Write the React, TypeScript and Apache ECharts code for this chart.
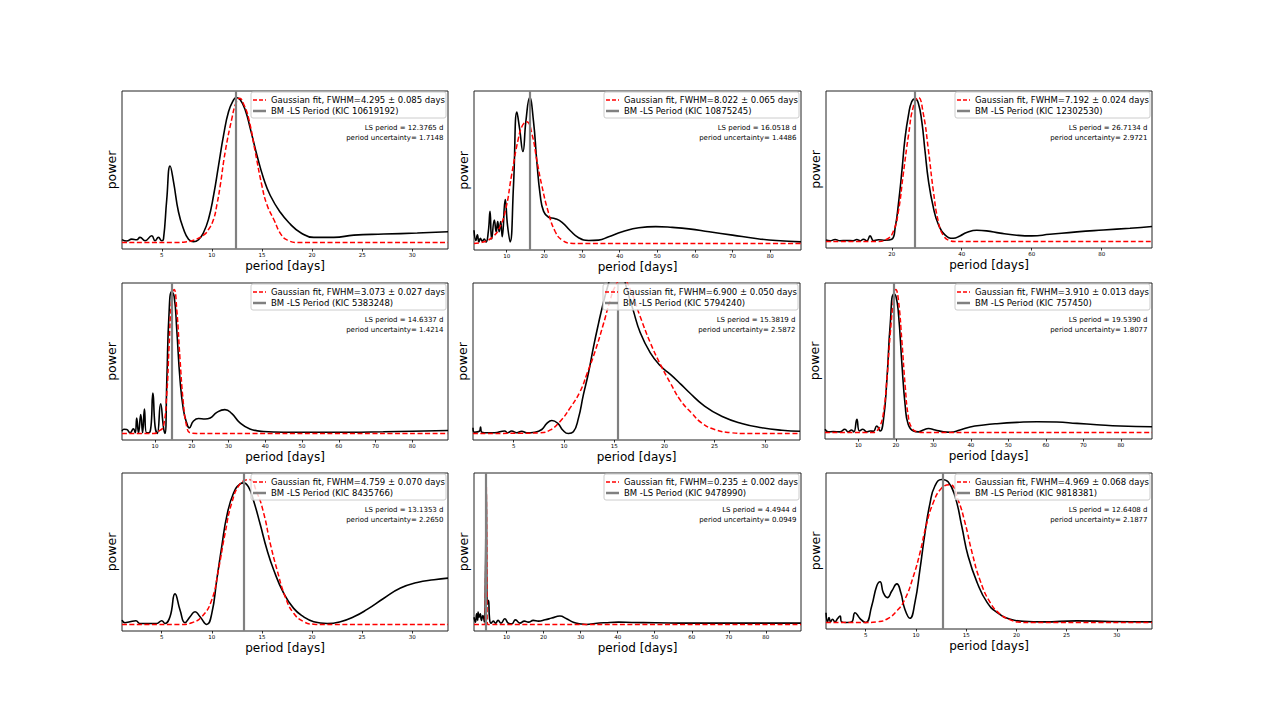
import React, { useEffect, useRef } from "react";
import * as echarts from "echarts";

// ---------- data (period [days], normalised power) ----------
const p1Black = [[1.03,0.02],[1.5,0.01],[2.0,0.023],[2.5,0.019],[2.83,0.035],[3.33,0.012],[4.0,0.046],[4.33,0.012],[4.67,0.035],[5.0,0.012],[5.17,0.023],[5.5,0.3],[5.83,0.528],[6.17,0.42],[6.67,0.21],[7.17,0.093],[7.67,0.023],[8.17,0.005],[8.67,0.019],[9.17,0.069],[9.67,0.162],[10.17,0.324],[10.67,0.532],[11.17,0.741],[11.67,0.903],[12.17,0.984],[12.43,1.0],[12.83,0.984],[13.33,0.914],[13.83,0.787],[14.5,0.602],[15.17,0.44],[15.83,0.324],[16.83,0.208],[17.83,0.127],[18.83,0.069],[20.17,0.035],[22.17,0.035],[24.17,0.051],[27.17,0.058],[30.5,0.065],[33.57,0.074]];
const p1Red = [[1.03,0],[6.5,0],[7.5,0.005],[8.17,0.015],[9.17,0.05],[9.67,0.09],[10.17,0.16],[10.5,0.26],[10.83,0.39],[11.33,0.625],[12.0,0.856],[12.4,0.96],[12.77,0.995],[13.2,0.95],[13.67,0.856],[14.33,0.625],[15.0,0.39],[15.5,0.26],[16.17,0.16],[17.0,0.046],[17.67,0.012],[18.5,0],[33.57,0]];

const p2Black = [[1.3,0.09],[1.8,0.02],[2.2,0.06],[2.6,0.01],[3.0,0.035],[3.5,0.015],[4.0,0.03],[4.5,0.01],[5.1,0.08],[5.56,0.22],[6.0,0.03],[6.7,0.16],[7.2,0.08],[7.6,0.15],[8.0,0.08],[8.4,0.15],[8.8,0.046],[9.6,0.30],[10.2,0.126],[10.9,0.011],[11.8,0.40],[12.7,0.90],[13.4,0.79],[14.3,0.63],[15.1,0.84],[16.1,1.0],[17.1,0.84],[18.0,0.56],[18.9,0.33],[19.8,0.22],[21.1,0.18],[22.9,0.17],[24.7,0.145],[26.9,0.087],[29.1,0.039],[31.8,0.02],[34.4,0.023],[37.1,0.046],[40.7,0.08],[45.1,0.108],[49.6,0.115],[54.0,0.11],[58.4,0.1],[63.8,0.08],[70.0,0.057],[76.2,0.034],[81.6,0.02],[88.2,0.011]];
const p2Red = [[1.3,0],[3,0.005],[5.1,0.023],[6.5,0.05],[7.8,0.092],[9.6,0.22],[11.3,0.47],[13.1,0.72],[14.2,0.81],[15.3,0.834],[16.7,0.75],[18.0,0.57],[19.3,0.4],[21.1,0.21],[22.9,0.08],[24.7,0.023],[26.9,0.002],[29,0],[88.2,0]];

const p3Black = [[1.2,0.01],[2.4,0.005],[3.8,0.014],[5.2,0.005],[7,0.007],[9,0.005],[10,0.014],[11,0.005],[11.9,0.016],[12.9,0.005],[13.8,0.039],[14.8,0.005],[16.2,0.012],[18.1,0.009],[20.0,0.016],[21.0,0.1],[21.9,0.26],[22.9,0.49],[23.8,0.72],[24.8,0.88],[25.7,0.97],[26.7,0.99],[27.6,0.96],[28.6,0.83],[29.5,0.63],[30.5,0.42],[31.9,0.235],[33.3,0.12],[35.2,0.046],[37.6,0.023],[39.5,0.039],[41.4,0.062],[44.3,0.078],[47.1,0.074],[51,0.058],[55.7,0.044],[60,0.039],[65.2,0.05],[72.9,0.067],[80.5,0.08],[88.1,0.092],[94.4,0.104]];
const p3Red = [[1.2,0],[15.7,0],[18.6,0.016],[20.5,0.074],[21.9,0.21],[23.3,0.47],[24.8,0.74],[26.2,0.94],[27.6,1.0],[29.0,0.89],[30.5,0.63],[31.9,0.35],[33.3,0.14],[34.8,0.04],[36.7,0.005],[38,0],[94.4,0]];

const p4Black = [[1.0,0.016],[1.5,0.03],[2.3,0.028],[3.2,0.005],[4.1,0.032],[4.6,0.005],[5.0,0.108],[5.5,0.005],[6.1,0.131],[6.6,0.005],[7.1,0.17],[7.7,0.005],[8.6,0.01],[9.4,0.281],[10.0,0.05],[10.6,0.0],[11.5,0.207],[12.3,0.04],[12.7,0.0],[13.2,0.373],[13.8,0.834],[14.5,0.984],[15.2,0.95],[15.9,0.72],[16.8,0.37],[17.7,0.166],[18.6,0.074],[19.3,0.039],[20.4,0.085],[21.8,0.104],[23.6,0.101],[25.0,0.108],[26.8,0.147],[29.0,0.166],[30.9,0.138],[33.1,0.074],[35.8,0.032],[39.5,0.014],[44.9,0.009],[54,0.009],[63,0.009],[72.1,0.012],[80,0.016],[89.7,0.021]];
const p4Red = [[1.0,0],[9.5,0],[11.4,0.023],[12.3,0.05],[13.2,0.28],[13.8,0.6],[14.5,0.93],[15.2,1.0],[15.9,0.86],[16.8,0.51],[17.7,0.21],[18.6,0.05],[19.5,0.005],[21.3,0],[89.7,0]];

const p5Black = [[0.95,0.04],[1.1,0.009],[1.6,0.016],[1.7,0.045],[1.8,0.01],[2.1,0.005],[3.1,0.005],[4.1,0.018],[4.4,0.005],[4.8,0.018],[5.3,0.005],[5.8,0.016],[6.3,0.005],[7.1,0.009],[7.8,0.028],[8.3,0.07],[8.8,0.09],[9.4,0.07],[9.9,0.023],[10.44,0.0],[10.94,0.012],[11.44,0.105],[11.94,0.27],[12.44,0.42],[12.94,0.6],[13.43,0.76],[13.93,0.91],[14.43,1.04],[14.9,1.15],[15.38,1.19],[15.8,1.14],[16.2,1.02],[16.9,0.855],[17.6,0.7],[18.6,0.56],[19.6,0.47],[20.6,0.41],[21.6,0.345],[22.4,0.29],[24.0,0.19],[25.7,0.12],[27.7,0.07],[29.7,0.04],[31.7,0.023],[33.5,0.016]];
const p5Red = [[0.95,0],[5.8,0.002],[7.6,0.005],[8.6,0.023],[9.6,0.082],[10.6,0.176],[11.6,0.29],[12.27,0.41],[13.1,0.57],[13.93,0.76],[14.6,0.925],[15.1,1.02],[15.8,1.08],[16.6,1.0],[17.6,0.81],[18.6,0.63],[19.6,0.48],[20.6,0.35],[21.6,0.23],[22.7,0.143],[23.7,0.074],[25.0,0.028],[26.7,0.005],[28,0],[33.5,0]];

const p6Black = [[1.1,0.023],[2.0,0.005],[3.3,0.007],[5.1,0.005],[6.4,0.023],[7.3,0.005],[8.2,0.018],[8.8,0.005],[9.6,0.092],[10.3,0.011],[11.2,0.023],[12.2,0.005],[13.1,0.011],[14.0,0.009],[14.9,0.046],[15.8,0.011],[16.7,0.092],[17.6,0.368],[18.5,0.759],[19.4,0.966],[20.0,0.954],[20.7,0.828],[21.6,0.483],[22.5,0.184],[23.3,0.057],[24.7,0.011],[26.0,0.005],[27.3,0.018],[28.7,0.028],[30.5,0.018],[32.7,0.005],[34.5,0.002],[37.1,0.018],[39.8,0.039],[43.4,0.053],[46.9,0.062],[52.3,0.071],[57.6,0.076],[62.9,0.074],[68.3,0.064],[73.6,0.055],[79.8,0.046],[88.3,0.041]];
const p6Red = [[1.1,0],[14.0,0],[14.9,0.011],[15.8,0.046],[16.7,0.14],[17.6,0.37],[18.5,0.69],[19.4,0.93],[20.0,1.0],[20.7,0.92],[21.6,0.64],[22.5,0.32],[23.3,0.115],[24.2,0.035],[25.6,0.005],[27.3,0],[88.3,0]];

const p7Black = [[1.04,0.03],[1.33,0.012],[1.83,0.019],[2.43,0.026],[2.83,0.007],[3.83,0.007],[4.5,0.007],[5.0,0.026],[5.33,0.007],[5.83,0.053],[6.33,0.211],[6.83,0.1],[7.33,0.012],[7.83,0.053],[8.33,0.088],[8.83,0.053],[9.5,0.0],[10.0,0.077],[10.5,0.309],[11.0,0.541],[11.5,0.749],[12.17,0.907],[12.83,0.97],[13.17,0.977],[13.67,0.947],[14.17,0.854],[14.83,0.691],[15.5,0.517],[16.17,0.378],[17.17,0.216],[18.17,0.111],[19.17,0.053],[20.17,0.019],[21.5,0.007],[22.83,0.019],[24.17,0.053],[25.5,0.104],[27.17,0.181],[28.83,0.251],[30.5,0.29],[32.17,0.309],[33.57,0.32]];
const p7Red = [[1.04,0],[7.0,0],[8.0,0.012],[9.0,0.053],[10.0,0.17],[10.67,0.38],[11.33,0.63],[12.0,0.84],[12.83,0.97],[13.73,1.0],[14.5,0.91],[15.17,0.77],[15.83,0.56],[16.5,0.38],[17.33,0.19],[18.17,0.077],[19.17,0.019],[20.17,0.002],[21,0],[33.57,0]];

const p8Black = [[1.2,0.05],[1.6,0.016],[1.9,0.074],[2.2,0.028],[2.3,0.085],[2.6,0.05],[2.9,0.074],[3.2,0.028],[3.6,0.062],[4.0,0.016],[4.3,0.37],[4.5,1.0],[4.8,0.14],[5.1,0.166],[5.4,0.039],[5.8,0.009],[6.4,0.023],[7.0,0.009],[7.7,0.028],[8.5,0.009],[9.5,0.039],[10.5,0.009],[11.4,0.005],[12.4,0.032],[13.6,0.009],[14.8,0.023],[15.9,0.016],[17.2,0.028],[18.6,0.023],[20.4,0.032],[22.2,0.044],[24.4,0.058],[26.2,0.039],[28.0,0.016],[29.8,0.005],[31.6,0.0],[33.9,0.007],[36.6,0.012],[40.2,0.016],[43.8,0.014],[50.1,0.012],[59.1,0.009],[68.1,0.009],[77.1,0.009],[89.5,0.009]];
const p8Red = [[1.2,0],[4.15,0],[4.3,0.2],[4.4,0.6],[4.5,0.98],[4.6,0.6],[4.7,0.2],[4.85,0],[89.5,0]];

const p9Black = [[1.05,0.069],[1.2,0.005],[1.35,0.035],[1.5,0.005],[1.7,0.023],[1.95,0.005],[2.2,0.028],[2.45,0.046],[2.6,0.005],[3.1,0.0],[3.6,0.005],[3.94,0.069],[4.44,0.028],[5.0,0.0],[5.6,0.116],[6.1,0.255],[6.43,0.285],[6.76,0.208],[7.16,0.174],[7.6,0.22],[8.1,0.27],[8.5,0.208],[8.9,0.093],[9.4,0.03],[9.9,0.139],[10.4,0.37],[10.9,0.625],[11.4,0.833],[11.9,0.956],[12.57,1.0],[13.2,0.984],[13.9,0.88],[14.57,0.671],[15.2,0.463],[16.1,0.278],[17.1,0.139],[18.1,0.069],[19.4,0.023],[20.7,0.009],[22.7,0.005],[26.0,0.012],[29.4,0.007],[33.5,0.005]];
const p9Red = [[1.05,0],[5.0,0],[6.1,0.005],[7.1,0.023],[8.1,0.081],[8.9,0.162],[9.75,0.324],[10.4,0.486],[11.0,0.671],[11.7,0.833],[12.57,0.94],[13.4,0.963],[14.2,0.856],[14.9,0.694],[15.6,0.486],[16.4,0.292],[17.4,0.139],[18.4,0.058],[19.4,0.019],[20.4,0.002],[21.5,0],[33.5,0]];

const lsPeriods = [12.3765, 16.0518, 26.7134, 14.6337, 15.3819, 19.539, 13.1353, 4.4944, 12.6408];
const fwhmLabels = [
  "Gaussian fit, FWHM=4.295 ± 0.085 days",
  "Gaussian fit, FWHM=8.022 ± 0.065 days",
  "Gaussian fit, FWHM=7.192 ± 0.024 days",
  "Gaussian fit, FWHM=3.073 ± 0.027 days",
  "Gaussian fit, FWHM=6.900 ± 0.050 days",
  "Gaussian fit, FWHM=3.910 ± 0.013 days",
  "Gaussian fit, FWHM=4.759 ± 0.070 days",
  "Gaussian fit, FWHM=0.235 ± 0.002 days",
  "Gaussian fit, FWHM=4.969 ± 0.068 days",
];
const kicLabels = [
  "BM -LS Period (KIC 10619192)",
  "BM -LS Period (KIC 10875245)",
  "BM -LS Period (KIC 12302530)",
  "BM -LS Period (KIC 5383248)",
  "BM -LS Period (KIC 5794240)",
  "BM -LS Period (KIC 757450)",
  "BM -LS Period (KIC 8435766)",
  "BM -LS Period (KIC 9478990)",
  "BM -LS Period (KIC 9818381)",
];
const lsLabels = [
  "LS period = 12.3765 d", "LS period = 16.0518 d", "LS period = 26.7134 d",
  "LS period = 14.6337 d", "LS period = 15.3819 d", "LS period = 19.5390 d",
  "LS period = 13.1353 d", "LS period = 4.4944 d", "LS period = 12.6408 d",
];
const uncLabels = [
  "period uncertainty= 1.7148", "period uncertainty= 1.4486", "period uncertainty= 2.9721",
  "period uncertainty= 1.4214", "period uncertainty= 2.5872", "period uncertainty= 1.8077",
  "period uncertainty= 2.2650", "period uncertainty= 0.0949", "period uncertainty= 2.1877",
];
const xRanges = [[1.03, 33.57], [1.3, 88.2], [1.2, 94.4], [1.0, 89.7], [0.95, 33.5], [1.1, 88.3], [1.04, 33.57], [1.2, 89.5], [1.05, 33.5]];
const t5 = [5, 10, 15, 20, 25, 30];
const t10 = [10, 20, 30, 40, 50, 60, 70, 80];
const t20 = [20, 40, 60, 80];
const xTicks = [t5, t10, t20, t10, t5, t10, t5, t10, t5];

const blacks = [p1Black, p2Black, p3Black, p4Black, p5Black, p6Black, p7Black, p8Black, p9Black];
const reds = [p1Red, p2Red, p3Red, p4Red, p5Red, p6Red, p7Red, p8Red, p9Red];

// ---------- layout ----------
const grids = [
  { left: 122, top: 91, width: 326, height: 158 },
  { left: 474, top: 91, width: 327, height: 159 },
  { left: 826, top: 91, width: 326, height: 157 },
  { left: 122, top: 283, width: 326, height: 157 },
  { left: 473, top: 283, width: 327, height: 157 },
  { left: 825, top: 283, width: 327, height: 156 },
  { left: 122, top: 473, width: 326, height: 158 },
  { left: 474, top: 473, width: 327, height: 158 },
  { left: 826, top: 473, width: 326, height: 156 },
];

const FONT = "DejaVu Sans";

export default function App() {
  const ref = useRef<HTMLDivElement>(null);
  useEffect(() => {
    if (!ref.current) return;
    const chart = echarts.init(ref.current, undefined, { renderer: "svg" });
    const graphic: any[] = [];
    grids.forEach((g, i) => {
      const right = g.left + g.width;
      const bw = 195, bh = 26;
      const bx = right - 2 - bw;
      const by = g.top + 1;
      graphic.push({ type: "rect", z: 100, shape: { x: bx, y: by, width: bw, height: bh, r: 2 }, style: { fill: "rgba(255,255,255,0.8)", stroke: "#cccccc", lineWidth: 1 } });
      graphic.push({ type: "line", z: 101, shape: { x1: bx + 2, y1: by + 8, x2: bx + 15, y2: by + 8 }, style: { stroke: "#ff0000", lineWidth: 1.6, lineDash: [4, 2] } });
      graphic.push({ type: "line", z: 101, shape: { x1: bx + 2, y1: by + 19, x2: bx + 15, y2: by + 19 }, style: { stroke: "#808080", lineWidth: 2.5 } });
      graphic.push({ type: "text", z: 101, x: bx + 20, y: by + 8, style: { text: fwhmLabels[i], fontSize: 8.5, fontFamily: FONT, fill: "#000", textAlign: "left", textVerticalAlign: "middle", align: "left", verticalAlign: "middle" } });
      graphic.push({ type: "text", z: 101, x: bx + 20, y: by + 19, style: { text: kicLabels[i], fontSize: 8.5, fontFamily: FONT, fill: "#000", textAlign: "left", textVerticalAlign: "middle", align: "left", verticalAlign: "middle" } });
      graphic.push({ type: "text", z: 101, x: right - 4.5, y: g.top + 37, style: { text: lsLabels[i], fontSize: 7, fontFamily: FONT, fill: "#000", textAlign: "right", textVerticalAlign: "middle", align: "right", verticalAlign: "middle" } });
      graphic.push({ type: "text", z: 101, x: right - 4.5, y: g.top + 46.5, style: { text: uncLabels[i], fontSize: 7, fontFamily: FONT, fill: "#000", textAlign: "right", textVerticalAlign: "middle", align: "right", verticalAlign: "middle" } });
    });

    const option: any = {
      animation: false,
      backgroundColor: "#ffffff",
      grid: grids.map((g) => ({ ...g, show: true, borderColor: "#222", borderWidth: 1, backgroundColor: "transparent", containLabel: false })),
      xAxis: grids.map((_, i) => ({
        type: "value",
        gridIndex: i,
        min: xRanges[i][0],
        max: xRanges[i][1],
        axisLine: { show: false, onZero: false },
        axisTick: { show: true, length: 2.5, lineStyle: { color: "#000", width: 0.8 }, customValues: xTicks[i] },
        axisLabel: { show: true, customValues: xTicks[i], fontSize: 5.5, margin: 3, color: "#000", fontFamily: FONT },
        splitLine: { show: false },
        name: "period [days]",
        nameLocation: "middle",
        nameGap: 11,
        nameTextStyle: { fontSize: 12, fontFamily: FONT, color: "#000" },
      })),
      yAxis: grids.map((_, i) => ({
        type: "value",
        gridIndex: i,
        min: -0.045,
        max: 1.045,
        axisLine: { show: false },
        axisTick: { show: false },
        axisLabel: { show: false },
        splitLine: { show: false },
        name: "power",
        nameLocation: "middle",
        nameGap: 4,
        nameTextStyle: { fontSize: 12.5, fontFamily: FONT, color: "#000" },
      })),
      series: grids.flatMap((_, i) => [
        {
          type: "line",
          xAxisIndex: i,
          yAxisIndex: i,
          data: blacks[i],
          symbol: "none",
          smooth: 0.5,
          clip: true,
          lineStyle: { color: "#000", width: 1.6 },
          z: 3,
        },
        {
          type: "line",
          xAxisIndex: i,
          yAxisIndex: i,
          data: reds[i],
          symbol: "none",
          smooth: 0.5,
          clip: true,
          lineStyle: { color: "#ff0000", width: 1.5, type: [5, 2.5] },
          z: 4,
          markLine: {
            symbol: "none",
            silent: true,
            label: { show: false },
            lineStyle: { color: "#808080", width: 2.2, type: "solid" },
            data: [{ xAxis: lsPeriods[i] }],
          },
        },
      ]),
      graphic,
    };
    chart.setOption(option);
    return () => chart.dispose();
  }, []);
  return <div ref={ref} style={{ position: "absolute", left: 0, top: 0, width: 1276, height: 719, background: "#fff" }} />;
}
